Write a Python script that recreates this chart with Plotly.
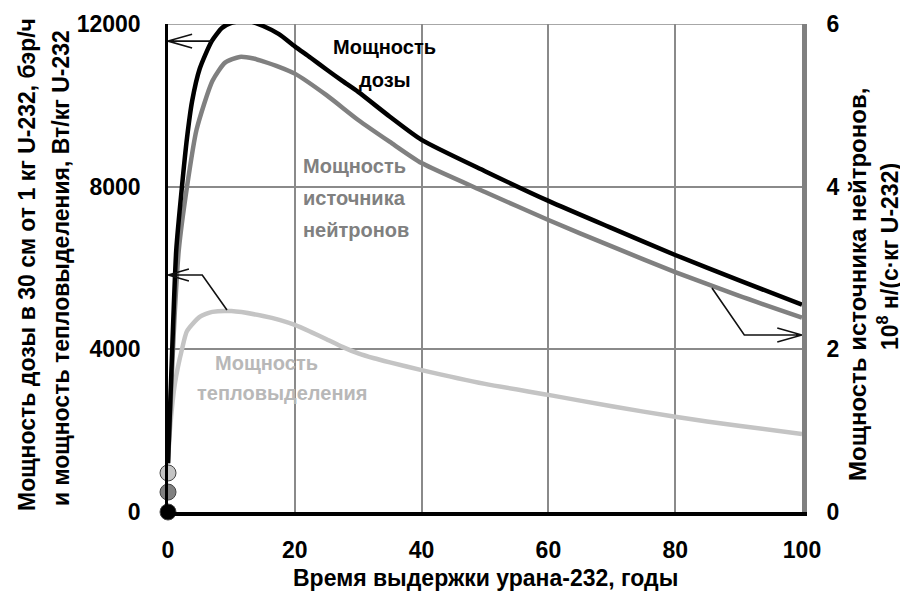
import plotly.graph_objects as go

# ---------------- data ----------------
t_dose = [0, 0.5, 1.3, 2.2, 3.0, 3.8, 5.0, 6.9, 8.5, 10, 12.6, 15, 17.5, 20, 22.5, 25, 27.5, 30, 35, 40, 50, 60, 70, 80, 90, 100]
dose = [1200, 3300, 6440, 8000, 9200, 10100, 10900, 11580, 11900, 12030, 12080, 11950, 11750, 11450, 11170, 10880, 10600, 10330, 9720, 9150, 8380, 7650, 6980, 6320, 5700, 5100]

t_neut = [0, 0.5, 1.0, 1.7, 3.0, 4.5, 7.0, 9.0, 11.3, 13.5, 15, 17.6, 20, 25, 30, 35, 40, 50, 60, 70, 80, 90, 100]
neut = [1200, 3000, 4700, 6440, 8000, 9400, 10600, 11050, 11190, 11150, 11080, 10940, 10780, 10250, 9640, 9100, 8580, 7870, 7180, 6530, 5900, 5320, 4780]  # in left-axis units (x2000 on right axis)

t_heat = [0, 0.3, 1.1, 2.2, 3.0, 5.0, 7.0, 10, 15, 17.7, 20, 22.5, 25, 27.5, 30, 32.5, 35, 40, 50, 60, 70, 80, 90, 100]
heat = [1200, 2000, 3170, 4000, 4450, 4800, 4920, 4940, 4820, 4720, 4600, 4430, 4250, 4060, 3900, 3780, 3680, 3490, 3150, 2880, 2600, 2340, 2120, 1920]

start_vals = [0, 490, 960]
start_colors = ["#000000", "#808080", "#c4c4c4"]

x_ticks = [0, 20, 40, 60, 80, 100]
y_ticks = [0, 4000, 8000, 12000]
y2_ticks = [0, 2, 4, 6]

FONT = "Liberation Sans, Arial, sans-serif"

fig = go.Figure()

fig.add_trace(go.Scatter(x=t_heat, y=heat, mode="lines", line=dict(color="#c4c4c4", width=4.5, shape="spline", smoothing=0.6),
                         cliponaxis=False, showlegend=False, hoverinfo="skip"))
fig.add_trace(go.Scatter(x=t_neut, y=neut, mode="lines", line=dict(color="#808080", width=4.5, shape="spline", smoothing=0.6),
                         cliponaxis=False, showlegend=False, hoverinfo="skip"))
fig.add_trace(go.Scatter(x=t_dose, y=dose, mode="lines", line=dict(color="#000000", width=4.5, shape="spline", smoothing=0.6),
                         cliponaxis=False, showlegend=False, hoverinfo="skip"))
fig.add_trace(go.Scatter(x=[0] * len(start_vals), y=start_vals, mode="markers",
                         marker=dict(size=16, color=start_colors, line=dict(color="#444444", width=1)),
                         cliponaxis=False, showlegend=False, hoverinfo="skip"))
# dummy trace for right axis
fig.add_trace(go.Scatter(x=[None], y=[None], yaxis="y2", showlegend=False, hoverinfo="skip"))

# ---------------- arrows (bent leader lines with open heads) ----------------
def seg(path, color="#111111", width=1.6):
    fig.add_shape(type="path", path=path, xref="x", yref="y",
                  line=dict(color=color, width=width), layer="above")

# dose -> left axis
seg("M 6.9,11580 L 0,11580 M 3.8,11750 L 0,11580 L 3.8,11410")
# heat -> left axis
seg("M 9.3,4967 L 5.4,5828 L 0,5828 M 3.3,5975 L 0,5828 L 3.3,5680")
# neutrons -> right axis
seg("M 85.8,5508 L 90.9,4352 L 100,4352 M 96.1,4525 L 100,4352 L 96.1,4180")

# ---------------- labels ----------------
def px(x):
    return (x - 168) / 634

def py(y):
    return (512 - y) / 488

lab = dict(family=FONT, size=20, weight="bold")
ann = []

def label(text, x, y, color, anchor="left"):
    ann.append(dict(x=px(x), y=py(y), xref="paper", yref="paper", text=text, showarrow=False,
                    font=dict(lab, color=color), xanchor=anchor, yanchor="middle"))

label("Мощность", 384, 47, "#000000", "center")
label("дозы", 385, 80, "#000000", "center")
label("Мощность", 301, 166, "#808080")
label("источника", 301, 198, "#808080")
label("нейтронов", 301, 230, "#808080")
label("Мощность", 213, 363, "#b8b8b8")
label("тепловыделения", 195, 393, "#b8b8b8")

# axis titles
tf = dict(family=FONT, size=23, color="#000000", weight="bold")
ann.append(dict(x=0.5, y=py(578), xref="paper", yref="paper",
                text="Время выдержки урана-232, годы", showarrow=False, font=tf,
                xanchor="center", yanchor="middle"))
ann.append(dict(x=px(27), y=py(265), xref="paper", yref="paper",
                text="Мощность дозы в 30 см от 1 кг U-232, бэр/ч", textangle=-90, showarrow=False,
                font=tf, xanchor="center", yanchor="middle"))
ann.append(dict(x=px(61), y=py(268), xref="paper", yref="paper",
                text="и мощность тепловыделения, Вт/кг U-232", textangle=-90, showarrow=False,
                font=tf, xanchor="center", yanchor="middle"))
ann.append(dict(x=px(857), y=py(284), xref="paper", yref="paper",
                text="Мощность источника нейтронов,", textangle=-90, showarrow=False,
                font=dict(tf, size=24), xanchor="center", yanchor="middle"))
ann.append(dict(x=px(888), y=py(257), xref="paper", yref="paper",
                text="10<sup>8</sup> н/(с·кг U-232)", textangle=-90, showarrow=False,
                font=tf, xanchor="center", yanchor="middle"))

tickfont = dict(family=FONT, size=23, color="#000000", weight="bold")

# the page has an 8px body margin: figure is 900x583 so the plot area lands at 168..802 x 24..512
fig.update_layout(
    width=900, height=583,
    margin=dict(l=160, r=106, t=16, b=79, autoexpand=False),
    plot_bgcolor="#ffffff", paper_bgcolor="#ffffff",
    annotations=ann,
    xaxis=dict(range=[0, 100], tickvals=x_ticks, ticktext=[str(v) for v in x_ticks],
               showgrid=True, gridcolor="#8a8a8a", gridwidth=1.5, zeroline=False, automargin=False,
               showline=True, linecolor="#000000", linewidth=4, ticks="", ticklabelstandoff=14,
               tickfont=tickfont),
    yaxis=dict(range=[0, 12000], tickvals=y_ticks, ticktext=[str(v) for v in y_ticks],
               showgrid=True, gridcolor="#8a8a8a", gridwidth=1.5, zeroline=False, automargin=False,
               showline=True, linecolor="#000000", linewidth=2.5, ticks="", ticklabelstandoff=20,
               tickfont=tickfont),
    yaxis2=dict(range=[0, 6], tickvals=y2_ticks, ticktext=[str(v) for v in y2_ticks],
                overlaying="y", side="right", showgrid=False, zeroline=False, automargin=False,
                showline=True, linecolor="#808080", linewidth=5, ticks="", ticklabelstandoff=15,
                tickfont=tickfont),
)
fig.add_shape(type="line", xref="paper", yref="y", x0=0, x1=1, y0=12000, y1=12000,
              line=dict(color="#8a8a8a", width=1.5), layer="below")

fig.write_html("out.html")
